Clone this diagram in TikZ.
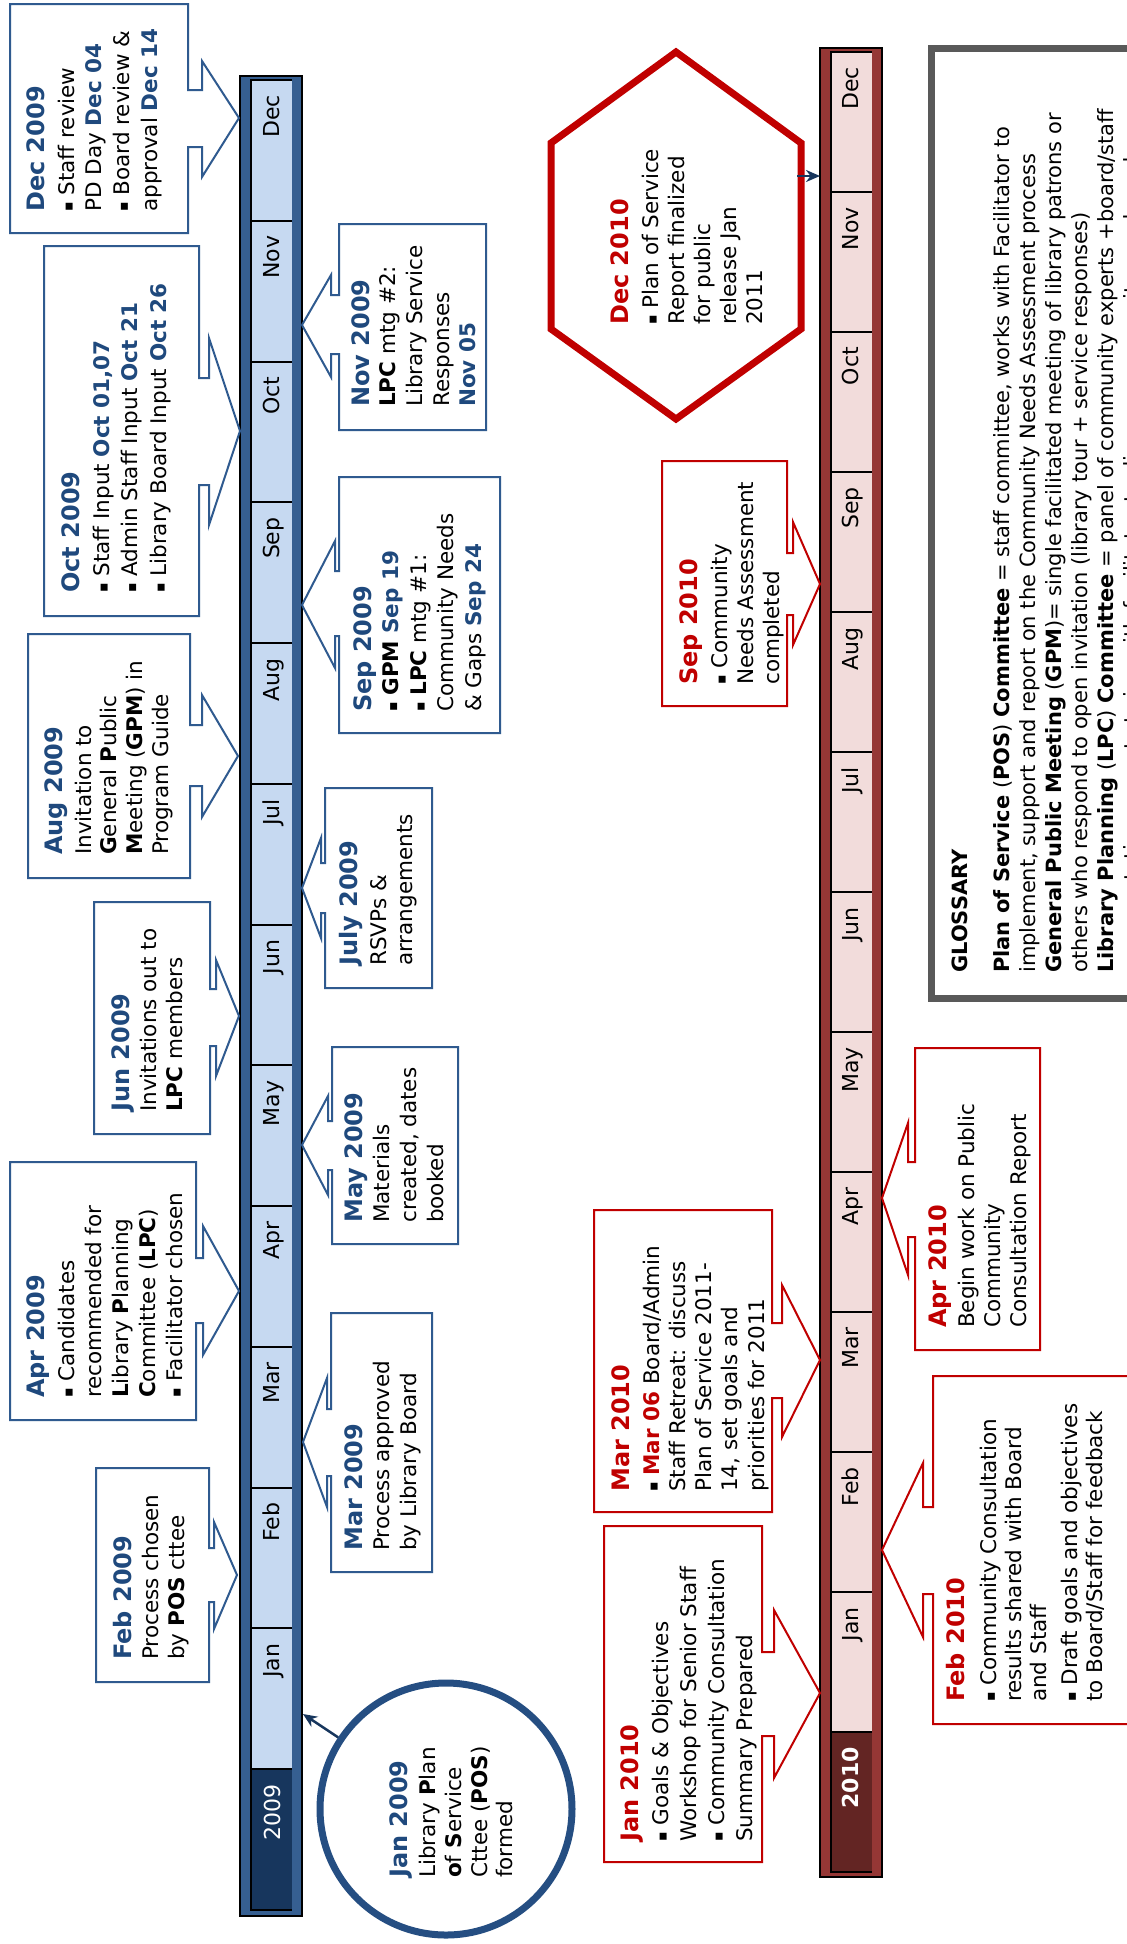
\documentclass[tikz,border=0pt]{standalone}
\usepackage{fontspec}
\setmainfont{DejaVu Sans}
\usetikzlibrary{arrows.meta}
\definecolor{bar09}{HTML}{365F91}
\definecolor{cell09}{HTML}{C6D9F1}
\definecolor{year09}{HTML}{17365D}
\definecolor{cbl}{HTML}{2F5A8F}
\definecolor{tblue}{HTML}{1F497D}
\definecolor{circ}{HTML}{254E82}
\definecolor{bar10}{HTML}{953735}
\definecolor{cell10}{HTML}{F2DCDB}
\definecolor{year10}{HTML}{632523}
\definecolor{tred}{HTML}{C00000}
\definecolor{gloss}{HTML}{595959}
\definecolor{navy}{HTML}{17365D}
\newcommand\tb[1]{{\color{tblue}\fontsize{24}{26.5}\selectfont\bfseries #1}}
\newcommand\trd[1]{{\color{tred}\fontsize{24}{26.5}\selectfont\bfseries #1}}
\newcommand\bd[1]{{\color{tblue}\bfseries #1}}
\newcommand\rd[1]{{\color{tred}\bfseries #1}}
\newcommand\bul{\raisebox{1.2pt}{\fontsize{14}{14}\selectfont ▪}\ }
\tikzset{
  co09/.style={draw=cbl, line width=2pt, fill=white},
  co10/.style={draw=tred, line width=2pt, fill=white},
  txt/.style={rotate=90, anchor=north west, inner sep=0pt, align=left, font=\fontsize{21.5}{#1}\selectfont},
  txt/.default=26.5,
  mon/.style={rotate=90, anchor=base east, inner sep=0pt, font=\fontsize{22}{26}\selectfont},
  navyarrow/.style={draw=navy, line width=2.5pt, -{Stealth[length=14pt,width=12pt]}},
  barline/.style={line width=2pt, draw=black},
}
\begin{document}
\begin{tikzpicture}[x=1pt, y=-1pt]
\useasboundingbox (0,0) rectangle (1127,1944);
\clip (0,0) rectangle (1127,1944);
\fill[white] (0,0) rectangle (1127,1944);

% ---------------- 2009 bar ----------------
\draw[barline, fill=bar09] (240,76) rectangle (302,1916);
\foreach \k in {0,...,11} \fill[cell09] (251,{80+140.77*\k}) rectangle (292,{80+140.77*(\k+1)});
\fill[year09] (251,{80+140.77*12}) rectangle (292,1910);
\draw[barline] (292,80) -- (251,80) -- (251,1910) -- (292,1910);
\foreach \k in {1,...,12} \draw[barline] (251,{80+140.77*\k}) -- (292,{80+140.77*\k});
\foreach \m [count=\k from 0] in {Dec,Nov,Oct,Sep,Aug,Jul,Jun,May,Apr,Mar,Feb,Jan}
  \node[mon] (ma\k) at (279,{80+140.77*\k+15}) {\m};
\node[mon, text=white] (ya) at (280,{80+140.77*12+15}) {2009};

% ---------------- 2010 bar ----------------
\draw[barline, fill=bar10] (820,48) rectangle (882,1877);
\foreach \k in {0,...,11} \fill[cell10] (831,{52+140*\k}) rectangle (872,{52+140*(\k+1)});
\fill[year10] (831,{52+140*12}) rectangle (872,1872);
\draw[barline] (872,52) -- (831,52) -- (831,1872) -- (872,1872);
\foreach \k in {1,...,12} \draw[barline] (831,{52+140*\k}) -- (872,{52+140*\k});
\foreach \m [count=\k from 0] in {Dec,Nov,Oct,Sep,Aug,Jul,Jun,May,Apr,Mar,Feb,Jan}
  \node[mon] (mb\k) at (858,{52+140*\k+15}) {\m};
\node[mon, text=white, font=\fontsize{22}{26}\selectfont\bfseries] (yb) at (858,{52+140*12+15}) {2010};

% ---------------- 2009 callouts (left) ----------------
\draw[co09] (10,4) -- (188,4) -- (188,90) -- (202,90) -- (202,61) -- (239,118) -- (202,177) -- (202,147) -- (188,147) -- (188,233) -- (10,233) -- cycle;
\node[txt=27.7] (dec09) at (26,212) {\tb{Dec 2009}\\[2.3pt]\bul Staff review\\PD Day \bd{Dec 04}\\\bul Board review \&\\approval \bd{Dec 14}};

\draw[co09] (44,246) -- (199,246) -- (199,378) -- (209,378) -- (209,338) -- (240,431) -- (209,525) -- (209,485) -- (199,485) -- (199,616) -- (44,616) -- cycle;
\node[txt=28.5] (oct09) at (61,593) {\tb{Oct 2009}\\[1.5pt]\bul Staff Input \bd{Oct 01,07}\\\bul Admin Staff Input \bd{Oct 21}\\\bul Library Board Input \bd{Oct 26}};

\draw[co09] (28,634) -- (190,634) -- (190,725) -- (202,725) -- (202,695) -- (238,756) -- (202,817) -- (202,786) -- (190,786) -- (190,878) -- (28,878) -- cycle;
\node[txt=25.8] (aug09) at (44,855) {\tb{Aug 2009}\\[3.2pt]Invitation to\\\textbf{G}eneral \textbf{P}ublic\\\textbf{M}eeting (\textbf{GPM}) in\\Program Guide};

\draw[co09] (94,902) -- (210,902) -- (210,989) -- (216,989) -- (216,960) -- (239,1016) -- (216,1076) -- (216,1046) -- (210,1046) -- (210,1134) -- (94,1134) -- cycle;
\node[txt=26] (jun09) at (111,1112) {\tb{Jun 2009}\\[1pt]Invitations out to\\\textbf{LPC} members};

\draw[co09] (10,1162) -- (196,1162) -- (196,1258) -- (203,1258) -- (203,1226) -- (239,1291) -- (203,1355) -- (203,1323) -- (196,1323) -- (196,1420) -- (10,1420) -- cycle;
\node[txt=27] (apr09) at (26,1398) {\tb{Apr 2009}\\[3pt]\bul Candidates\\recommended for\\\textbf{L}ibrary \textbf{P}lanning\\\textbf{C}ommittee (\textbf{LPC})\\\bul Facilitator chosen};

\draw[co09] (96,1468) -- (209,1468) -- (209,1548) -- (214,1548) -- (214,1522) -- (237,1575) -- (214,1629) -- (214,1602) -- (209,1602) -- (209,1682) -- (96,1682) -- cycle;
\node[txt=26.7] (feb09) at (113,1660) {\tb{Feb 2009}\\Process chosen\\by \textbf{POS} cttee};

% ---------------- 2009 callouts (right) ----------------
\draw[co09] (339,224) -- (486,224) -- (486,430) -- (339,430) -- (339,354) -- (331,354) -- (331,377) -- (302,325) -- (331,275) -- (331,295) -- (339,295) -- cycle;
\node[txt=26.7] (nov09) at (351,407) {\tb{Nov 2009}\\\textbf{LPC} mtg \#2:\\Library Service\\Responses\\\bd{Nov 05}};

\draw[co09] (339,477) -- (500,477) -- (500,733) -- (339,733) -- (339,636) -- (335,636) -- (335,668) -- (302,605) -- (335,541) -- (335,571) -- (339,571) -- cycle;
\node[txt=27.5] (sep09) at (353,712) {\tb{Sep 2009}\\\bul\textbf{GPM} \bd{Sep 19}\\\bul\textbf{LPC} mtg \#1:\\Community Needs\\\& Gaps \bd{Sep 24}};

\draw[co09] (325,788) -- (432,788) -- (432,988) -- (325,988) -- (325,913) -- (321,913) -- (321,938) -- (302,888) -- (321,838) -- (321,863) -- (325,863) -- cycle;
\node[txt=26] (jul09) at (339,966) {\tb{July 2009}\\[3pt]RSVPs \&\\arrangements};

\draw[co09] (332,1047) -- (458,1047) -- (458,1244) -- (332,1244) -- (332,1170) -- (328,1170) -- (328,1195) -- (302,1145) -- (328,1096) -- (328,1121) -- (332,1121) -- cycle;
\node[txt=27] (may09) at (344,1223) {\tb{May 2009}\\Materials\\created, dates\\booked};

\draw[co09] (331,1313) -- (432,1313) -- (432,1572) -- (331,1572) -- (331,1476) -- (327,1476) -- (327,1507) -- (303,1442) -- (327,1378) -- (327,1409) -- (331,1409) -- cycle;
\node[txt=27] (mar09) at (344,1551) {\tb{Mar 2009}\\Process approved\\by Library Board};

% ---------------- Jan 2009 circle ----------------
\node[draw=circ, line width=7pt, circle, minimum size=252pt, inner sep=0pt, fill=white] (c09) at (446,1809) {};
\node[txt=25.7] (c09t) at (389,1878) {\tb{Jan 2009}\\[3pt]Library \textbf{P}lan\\\textbf{o}f \textbf{S}ervice\\Cttee (\textbf{POS})\\formed};
\coordinate (c09tip) at (303,1714);
\draw[navyarrow] (c09) -- (c09tip);

% ---------------- Dec 2010 hexagon ----------------
\draw[draw=tred, line width=7pt, fill=white, line join=miter] (676,52) -- (551,143) -- (551,329) -- (676,419) -- (801,329) -- (801,143) -- cycle;
\node[txt=26] (hex) at (610,325) {\trd{Dec 2010}\\[4pt]\bul Plan of Service\\Report finalized\\for public\\release Jan\\2011};
\coordinate (hexR) at (797,176);
\coordinate (hexTip) at (820,176);
\draw[navyarrow] (hexR) -- (hexTip);

% ---------------- 2010 callouts (left) ----------------
\draw[co10] (662,461) -- (787,461) -- (787,553) -- (793,553) -- (793,522) -- (820,584) -- (793,645) -- (793,615) -- (787,615) -- (787,706) -- (662,706) -- cycle;
\node[txt=26] (sep10) at (679,685) {\trd{Sep 2010}\\[4pt]\bul Community\\Needs Assessment\\completed};

\draw[co10] (594,1210) -- (772,1210) -- (772,1323) -- (782,1323) -- (782,1285) -- (820,1360) -- (782,1437) -- (782,1398) -- (772,1398) -- (772,1512) -- (594,1512) -- cycle;
\node[txt=26.3] (mar10) at (611,1492) {\trd{Mar 2010}\\[3.7pt]\bul\rd{Mar 06} Board/Admin\\Staff Retreat: discuss\\Plan of Service 2011-\\14, set goals and\\priorities for 2011};

\draw[co10] (604,1526) -- (762,1526) -- (762,1652) -- (774,1652) -- (774,1610) -- (820,1693) -- (774,1778) -- (774,1736) -- (762,1736) -- (762,1862) -- (604,1862) -- cycle;
\node[txt=28] (jan10) at (620,1842) {\trd{Jan 2010}\\[2pt]\bul Goals \& Objectives\\Workshop for Senior Staff\\\bul Community Consultation\\Summary Prepared};

% ---------------- 2010 callouts (right) ----------------
\draw[co10] (915,1048) -- (1040,1048) -- (1040,1350) -- (915,1350) -- (915,1237) -- (908,1237) -- (908,1275) -- (882,1198) -- (908,1123) -- (908,1162) -- (915,1162) -- cycle;
\node[txt=26] (apr10) at (928,1328) {\trd{Apr 2010}\\[2pt]Begin work on Public\\Community\\Consultation Report};

\draw[co10] (933,1376) -- (1160,1376) -- (1160,1724) -- (933,1724) -- (933,1594) -- (923,1594) -- (923,1637) -- (882,1550) -- (923,1463) -- (923,1507) -- (933,1507) -- cycle;
\node[txt=25] (feb10) at (946,1702) {\trd{Feb 2010}\\[7pt]\bul Community Consultation\\results shared with Board\\and Staff\\[6pt]\bul Draft goals and objectives\\to Board/Staff for feedback};

% ---------------- Glossary ----------------
\draw[draw=gloss, line width=7pt, fill=white] (931.5,48.5) rectangle (1160,998.5);
\node[rotate=90, anchor=north west, inner sep=0pt, align=left, font=\fontsize{21}{26}\selectfont] (gl) at (951.4,973)
 {\textbf{GLOSSARY}\\[16pt]
  \textbf{Plan of Service} (\textbf{POS}) \textbf{Committee} = staff committee, works with Facilitator to\\
  implement, support and report on the Community Needs Assessment process\\
  \textbf{General Public Meeting} (\textbf{GPM})= single facilitated meeting of library patrons or\\
  others who respond to open invitation (library tour + service responses)\\
  \textbf{Library Planning} (\textbf{LPC}) \textbf{Committee} = panel of community experts +board/staff\\
  representatives, meets twice with facilitator to discuss community needs and};
\end{tikzpicture}
\end{document}
